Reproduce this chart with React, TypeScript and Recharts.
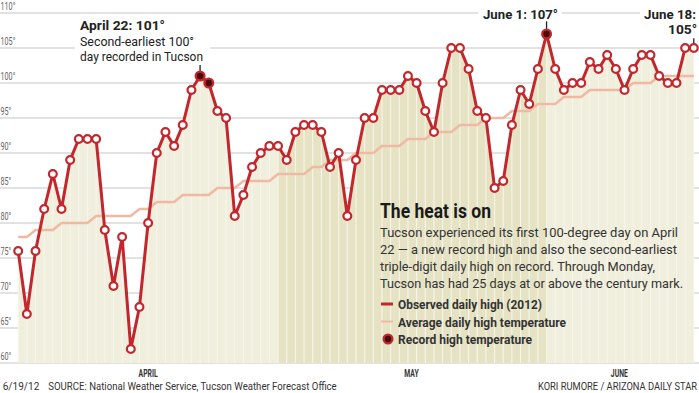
import { ComposedChart, Area, Line, XAxis, YAxis, CartesianGrid, ReferenceLine } from 'recharts';

const FONT = 'Roboto, "Liberation Sans", sans-serif';

// daily highs, April 1 - June 18, 2012
const observedHigh = [
    76, 67, 76, 82, 87, 82, 89, 92, 92, 92, 79, 71, 78, 62, 68, 80, 90, 93, 91, 94,
    99, 101, 100, 96, 95, 81, 84, 88, 90, 91,
    91, 89, 93, 94, 94, 93, 88, 90, 81, 89, 95, 95, 99, 99, 99, 101, 100, 96, 93, 100,
    105, 105, 102, 96, 95, 85, 86, 94, 99, 97, 102,
    107, 102, 99, 100, 100, 103, 102, 104, 102, 99, 102, 104, 104, 101, 100, 100, 105, 105,
];
const averageHigh = [
    78, 78, 79, 79, 79, 80, 80, 80, 80, 81, 81, 81, 81, 81, 82, 82, 83, 83, 83, 84,
    84, 84, 84, 85, 85, 85, 86, 86, 86, 86,
    87, 87, 87, 87, 88, 88, 89, 89, 89, 90, 90, 90, 91, 91, 91, 92, 92, 92, 93, 93,
    93, 94, 94, 94, 95, 95, 95, 96, 96, 96, 97,
    97, 97, 98, 98, 98, 99, 99, 99, 99, 99, 100, 100, 100, 101, 101, 101, 101, 101,
];
const recordDays = [21, 22, 61];
const monthNames = ['APRIL', 'MAY', 'JUNE'];
const monthStartDays = [0, 30, 61];
const monthLabelDays = [15, 45.4, 69.4];
const yTicks = [60, 65, 70, 75, 80, 85, 90, 95, 100, 105, 110];

const paragraphLines = [
    'Tucson experienced its first 100-degree day on April',
    '22 — a new record high and also the second-earliest',
    'triple-digit daily high on record. Through Monday,',
    'Tucson has had 25 days at or above the century mark.',
];
const paragraphWidths = [298, 297, 275, 303];

const data = observedHigh.map((v, i) => ({
    day: i,
    observed: v,
    average: averageHigh[i],
    record: recordDays.includes(i),
}));
const lastDay = observedHigh.length - 1;

const RED = '#c1272d';
const PINK = '#efb9a3';
const DARK_DOT = '#4a0b0d';
const LIGHT_FILL = '#f0eedc';
const DARK_FILL = '#e6e3c4';

const ObservedDot = (props: any) => {
    const { cx, cy, payload, index } = props;
    if (cx == null || cy == null) return null;
    if (payload.record) {
        return (
            <g key={`d${index}`}>
                <circle cx={cx} cy={cy} r={5.5} fill={RED} />
                <circle cx={cx} cy={cy} r={3.2} fill={DARK_DOT} />
            </g>
        );
    }
    return <circle key={`d${index}`} cx={cx} cy={cy} r={3.9} fill="#fff" stroke={RED} strokeWidth={2.2} />;
};

const YTick = ({ y, payload }: any) => (
    <text transform={`translate(0.5, ${y - 3}) scale(0.72, 1)`} fontFamily={FONT} fontSize={10} fill="#666">
        {payload.value}°
    </text>
);

const MonthTick = ({ x, payload }: any) => (
    <text
        transform={`translate(${x}, 376.5) scale(0.62, 1)`}
        textAnchor="middle"
        fontFamily={FONT}
        fontSize={11}
        fontWeight="bold"
        fill="#333"
    >
        {monthNames[monthLabelDays.indexOf(payload.value)]}
    </text>
);

// text squeezed to the width it takes in the printed graphic
const T = ({ x, y, w, size, bold, color = '#222', anchor = 'start', children }: any) => (
    <text
        x={x}
        y={y}
        textLength={w}
        lengthAdjust="spacingAndGlyphs"
        textAnchor={anchor}
        fontFamily={FONT}
        fontSize={size}
        fontWeight={bold ? 'bold' : 'normal'}
        fill={color}
    >
        {children}
    </text>
);

export default function App() {
    const mayOff = monthStartDays[1] / lastDay;
    const juneOff = monthStartDays[2] / lastDay;

    return (
        <div style={{ position: 'relative', width: 699, height: 393, background: '#fff', overflow: 'hidden' }}>
            <style>{'body{margin:0}'}</style>
            <ComposedChart width={699} height={393} data={data} margin={{ top: 13, right: 0, left: 0, bottom: 0 }}>
                <defs>
                    <linearGradient id="monthFill" x1="0" y1="0" x2="1" y2="0">
                        <stop offset={0} stopColor={LIGHT_FILL} />
                        <stop offset={mayOff} stopColor={LIGHT_FILL} />
                        <stop offset={mayOff} stopColor={DARK_FILL} />
                        <stop offset={juneOff} stopColor={DARK_FILL} />
                        <stop offset={juneOff} stopColor={LIGHT_FILL} />
                        <stop offset={1} stopColor={LIGHT_FILL} />
                    </linearGradient>
                </defs>
                <CartesianGrid vertical={false} stroke="#d9d9d9" strokeWidth={1.5} />
                <XAxis
                    type="number"
                    dataKey="day"
                    domain={[-2.1, 78.6]}
                    allowDataOverflow
                    ticks={monthLabelDays}
                    tick={<MonthTick />}
                    axisLine={false}
                    tickLine={false}
                    height={30}
                />
                <YAxis
                    domain={[60, 110]}
                    ticks={yTicks}
                    allowDataOverflow
                    mirror
                    axisLine={false}
                    tickLine={false}
                    tick={<YTick />}
                />
                <Area
                    type="linear"
                    dataKey="observed"
                    baseValue={60}
                    stroke="none"
                    fill="url(#monthFill)"
                    fillOpacity={1}
                    isAnimationActive={false}
                />
                {data.map((d) => (
                    <ReferenceLine
                        key={`v${d.day}`}
                        segment={[{ x: d.day, y: 60 }, { x: d.day, y: d.observed }]}
                        stroke="#f7f6ec"
                        strokeWidth={1}
                    />
                ))}
                <Line
                    type="linear"
                    dataKey="average"
                    stroke={PINK}
                    strokeWidth={2.5}
                    dot={false}
                    isAnimationActive={false}
                />
                <Line
                    type="linear"
                    dataKey="observed"
                    stroke={RED}
                    strokeWidth={3}
                    dot={<ObservedDot />}
                    activeDot={false}
                    isAnimationActive={false}
                />
                <ReferenceLine segment={[{ x: 21, y: 101.5 }, { x: 21, y: 102.7 }]} stroke="#222" strokeWidth={1.3} />
                <ReferenceLine segment={[{ x: 61, y: 107.6 }, { x: 61, y: 108.8 }]} stroke="#222" strokeWidth={1.3} />
                <ReferenceLine segment={[{ x: 78, y: 105.6 }, { x: 78, y: 106.4 }]} stroke="#222" strokeWidth={1.3} />
            </ComposedChart>

            <svg width={699} height={393} style={{ position: 'absolute', left: 0, top: 0, pointerEvents: 'none' }}>
                {/* annotations, with white behind them to break the grid lines */}
                <rect x={75} y={17} width={135} height={48} fill="#fff" />
                <T x={80} y={30} w={85} size={13.5} bold>April 22: 101°</T>
                <T x={80} y={46} w={114} size={13}>Second-earliest 100°</T>
                <T x={80} y={60.5} w={123} size={13}>day recorded in Tucson</T>

                <rect x={478} y={5} width={84} height={16} fill="#fff" />
                <T x={483} y={18.5} w={75} size={13.5} bold>June 1: 107°</T>

                <rect x={640} y={5} width={59} height={32} fill="#fff" />
                <T x={644} y={18.5} w={52} size={13.5} bold>June 18:</T>
                <T x={668} y={33.5} w={29} size={13.5} bold>105°</T>

                {/* explainer */}
                <T x={380} y={218} w={111} size={21} bold color="#1a1a1a">The heat is on</T>
                {paragraphLines.map((line, i) => (
                    <T key={line} x={380} y={236.5 + i * 17} w={paragraphWidths[i]} size={13.5} color="#333">
                        {line}
                    </T>
                ))}

                {/* legend */}
                <rect x={381} y={302.5} width={12} height={3} fill={RED} />
                <T x={398} y={308.5} w={144} size={13} bold color="#333">Observed daily high (2012)</T>
                <rect x={381} y={320.5} width={12} height={2} fill={PINK} />
                <T x={398} y={326.5} w={168} size={13} bold color="#333">Average daily high temperature</T>
                <circle cx={388} cy={339} r={5.5} fill={RED} />
                <circle cx={388} cy={339} r={3.2} fill={DARK_DOT} />
                <T x={398} y={344} w={134} size={13} bold color="#333">Record high temperature</T>

                {/* footer */}
                <T x={2.7} y={390} w={36.6} size={10.5} color="#333">6/19/12</T>
                <T x={48.3} y={390} w={288.4} size={10.5} color="#333">SOURCE: National Weather Service, Tucson Weather Forecast Office</T>
                <T x={697} y={390} w={159} size={10.5} color="#333" anchor="end">KORI RUMORE / ARIZONA DAILY STAR</T>
            </svg>
        </div>
    );
}
